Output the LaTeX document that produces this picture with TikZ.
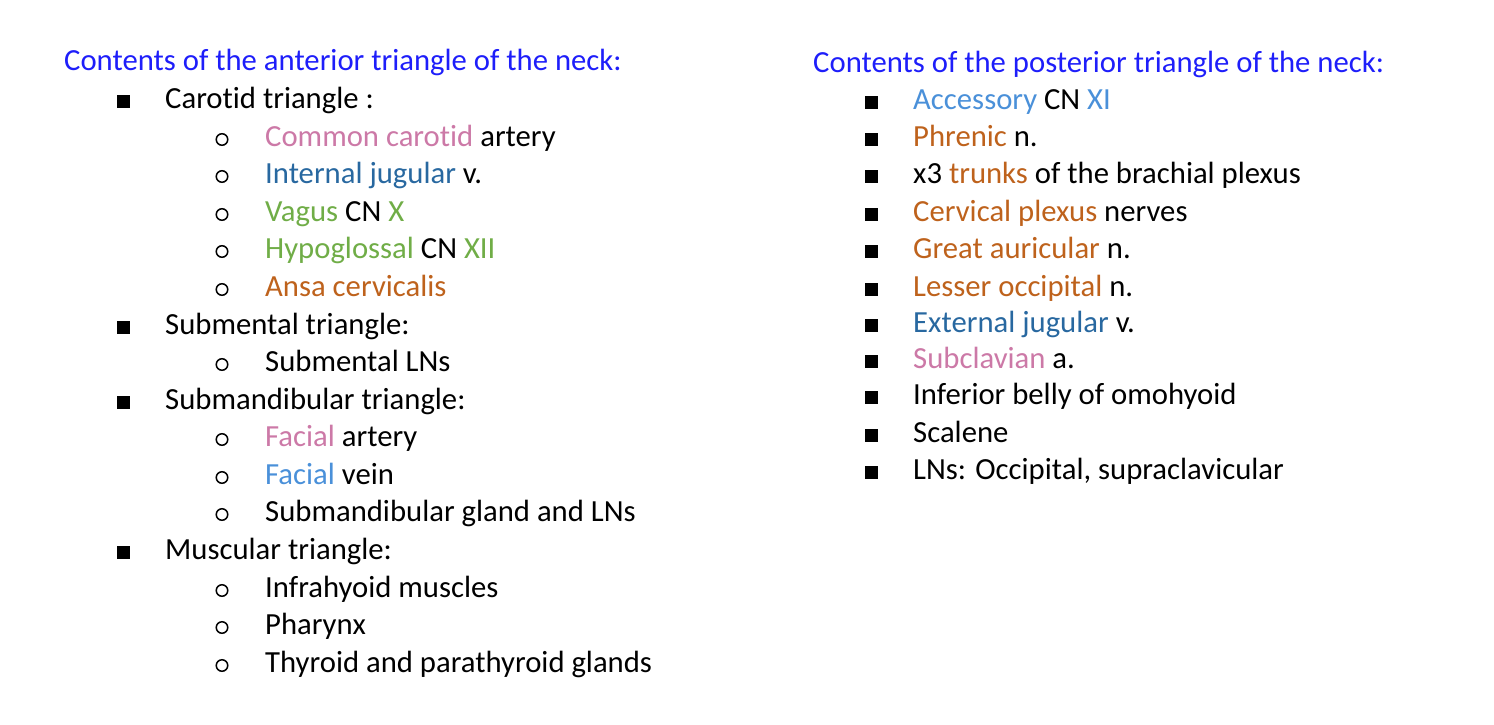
\documentclass[tikz,border=0pt]{standalone}
\usepackage{fontspec}
\setmainfont{Carlito}[Ligatures=NoCommon]
\usetikzlibrary{positioning}
\definecolor{headblue}{RGB}{30,30,250}
\definecolor{artpink}{RGB}{204,121,167}
\definecolor{veinblue}{RGB}{40,104,160}
\definecolor{cngreen}{RGB}{112,173,71}
\definecolor{nerveorange}{RGB}{190,98,28}
\definecolor{lightblue}{RGB}{74,144,217}
\tikzstyle{head}=[anchor=base west,inner sep=0,text=headblue]
\tikzstyle{item}=[anchor=base west,inner sep=0]
\tikzstyle{sq}=[rectangle,fill=black,minimum size=13,inner sep=0,anchor=south]
\tikzstyle{circ}=[circle,draw=black,line width=1.5,minimum size=11.5,inner sep=0,anchor=south]

\begin{document}
\begin{tikzpicture}[x=1pt,y=-1pt,font=\fontsize{30.7}{36}\selectfont]
	\useasboundingbox (0,0) rectangle (1494,724);
	% anterior triangle
	\node[head] (ant) at (64,70) {Contents of the anterior triangle of the neck:};
	\node[item] (car) at (165,108) {Carotid triangle :};
	\node[item] (cca) at (265,146) {\textcolor{artpink}{Common carotid} artery};
	\node[item] (ijv) at (265,183) {\textcolor{veinblue}{Internal jugular} v.};
	\node[item] (vag) at (265,221) {\textcolor{cngreen}{Vagus} CN \textcolor{cngreen}{X}};
	\node[item] (hyp) at (265,258) {\textcolor{cngreen}{Hypoglossal} CN \textcolor{cngreen}{XII}};
	\node[item] (ansa) at (265,296) {\textcolor{nerveorange}{Ansa cervicalis}};
	\node[item] (subm) at (165,334) {Submental triangle:};
	\node[item] (smln) at (265,371) {Submental LNs};
	\node[item] (sbmd) at (165,409) {Submandibular triangle:};
	\node[item] (fart) at (265,446) {\textcolor{artpink}{Facial} artery};
	\node[item] (fvein) at (265,484) {\textcolor{lightblue}{Facial} vein};
	\node[item] (smgl) at (265,521) {Submandibular gland and LNs};
	\node[item] (musc) at (165,559) {Muscular triangle:};
	\node[item] (infra) at (265,597) {Infrahyoid muscles};
	\node[item] (phar) at (265,634) {Pharynx};
	\node[item] (thyr) at (265,672) {Thyroid and parathyroid glands};
	% bullets
	\node[sq] (car-b) at ([xshift=-41.5]car.base west) {};
	\node[sq] (subm-b) at ([xshift=-41.5]subm.base west) {};
	\node[sq] (sbmd-b) at ([xshift=-41.5]sbmd.base west) {};
	\node[sq] (musc-b) at ([xshift=-41.5]musc.base west) {};
	\node[circ] (cca-b) at ([xshift=-43]cca.base west) {};
	\node[circ] (ijv-b) at ([xshift=-43]ijv.base west) {};
	\node[circ] (vag-b) at ([xshift=-43]vag.base west) {};
	\node[circ] (hyp-b) at ([xshift=-43]hyp.base west) {};
	\node[circ] (ansa-b) at ([xshift=-43]ansa.base west) {};
	\node[circ] (smln-b) at ([xshift=-43]smln.base west) {};
	\node[circ] (fart-b) at ([xshift=-43]fart.base west) {};
	\node[circ] (fvein-b) at ([xshift=-43]fvein.base west) {};
	\node[circ] (smgl-b) at ([xshift=-43]smgl.base west) {};
	\node[circ] (infra-b) at ([xshift=-43]infra.base west) {};
	\node[circ] (phar-b) at ([xshift=-43]phar.base west) {};
	\node[circ] (thyr-b) at ([xshift=-43]thyr.base west) {};
	% posterior triangle
	\node[head] (post) at (813,72) {Contents of the posterior triangle of the neck:};
	\node[item] (acc) at (913,109) {\textcolor{lightblue}{Accessory} CN \textcolor{lightblue}{XI}};
	\node[item] (phr) at (913,146) {\textcolor{nerveorange}{Phrenic} n.};
	\node[item] (trk) at (913,183) {x3 \textcolor{nerveorange}{trunks} of the brachial plexus};
	\node[item] (cerv) at (913,221) {\textcolor{nerveorange}{Cervical plexus} nerves};
	\node[item] (gaur) at (913,258) {\textcolor{nerveorange}{Great auricular} n.};
	\node[item] (locc) at (913,296) {\textcolor{nerveorange}{Lesser occipital} n.};
	\node[item] (ejv) at (913,332) {\textcolor{veinblue}{External jugular} v.};
	\node[item] (subcl) at (913,368) {\textcolor{artpink}{Subclavian} a.};
	\node[item] (omo) at (913,404) {Inferior belly of omohyoid};
	\node[item] (scal) at (913,442) {Scalene};
	\node[item] (lns) at (913,479) {LNs: Occipital, supraclavicular};
	% bullets
	\node[sq] (acc-b) at ([xshift=-41.5]acc.base west) {};
	\node[sq] (phr-b) at ([xshift=-41.5]phr.base west) {};
	\node[sq] (trk-b) at ([xshift=-41.5]trk.base west) {};
	\node[sq] (cerv-b) at ([xshift=-41.5]cerv.base west) {};
	\node[sq] (gaur-b) at ([xshift=-41.5]gaur.base west) {};
	\node[sq] (locc-b) at ([xshift=-41.5]locc.base west) {};
	\node[sq] (ejv-b) at ([xshift=-41.5]ejv.base west) {};
	\node[sq] (subcl-b) at ([xshift=-41.5]subcl.base west) {};
	\node[sq] (omo-b) at ([xshift=-41.5]omo.base west) {};
	\node[sq] (scal-b) at ([xshift=-41.5]scal.base west) {};
	\node[sq] (lns-b) at ([xshift=-41.5]lns.base west) {};
\end{tikzpicture}
\end{document}
